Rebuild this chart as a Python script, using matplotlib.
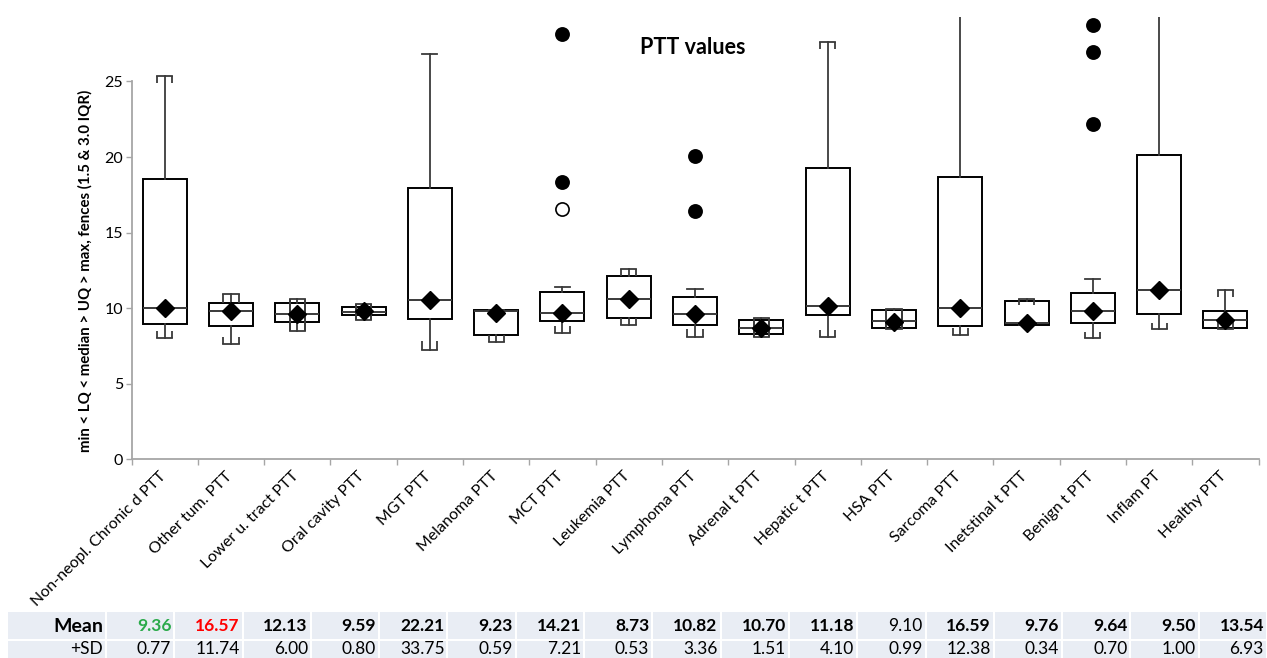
import numpy as np
import matplotlib
matplotlib.use("Agg")
import matplotlib.pyplot as plt
from matplotlib.patches import Rectangle

plt.rcParams['font.family'] = ['Lato', 'DejaVu Sans']

categories = ["Non-neopl. Chronic d PTT", "Other tum. PTT", "Lower u. tract PTT", "Oral cavity PTT",
              "MGT PTT", "Melanoma PTT", "MCT PTT", "Leukemia PTT", "Lymphoma PTT", "Adrenal t PTT",
              "Hepatic t PTT", "HSA PTT", "Sarcoma PTT", "Inetstinal t PTT", "Benign t PTT",
              "Inflam PT", "Healthy PTT"]

whis_hi = [25.33, 10.97, 10.60, 10.28, 26.80, 9.88, 11.37, 12.60, 11.30, 9.36, 27.63, 9.95, 35.0, 10.61, 11.90, 33.0, 11.21]
q3      = [18.53, 10.31, 10.31, 10.05, 17.98, 9.88, 11.10, 12.10, 10.71, 9.23, 19.27, 9.89, 18.70, 10.50, 11.00, 20.13, 9.82]
medians = [9.98, 9.82, 9.60, 9.75, 10.55, 9.80, 9.71, 10.64, 9.60, 8.70, 10.15, 9.12, 9.98, 8.99, 9.78, 11.21, 9.19]
q1      = [8.92, 8.79, 9.10, 9.54, 9.29, 8.21, 9.16, 9.32, 8.88, 8.26, 9.52, 8.70, 8.79, 8.86, 9.03, 9.60, 8.70]
whis_lo = [8.00, 7.62, 8.48, 9.19, 7.22, 7.73, 8.33, 8.90, 8.10, 8.10, 8.10, 8.60, 8.22, 8.86, 8.00, 8.60, 8.60]
means   = [10.0, 9.80, 9.60, 9.80, 10.55, 9.71, 9.70, 10.60, 9.60, 8.70, 10.15, 9.10, 10.0, 9.00, 9.78, 11.20, 9.20]

# fence brackets: value where the bracket sides end (nan = plain cap)
nan = np.nan
top_fence_end = [24.93, 10.31, 8.48, 9.19, nan, nan, nan, 12.10, nan, 8.10, 27.15, 8.60, nan, 10.20, nan, nan, 10.75]
bot_fence_end = [8.49, 8.06, 10.60, 10.28, 7.82, 8.21, 8.81, 9.32, 8.61, 9.36, 8.55, 9.95, 8.67, nan, 8.45, 9.03, 9.20]

# outliers (category index, value, filled?)
out_idx    = [6, 6, 6, 8, 8, 14, 14, 14]
out_val    = [28.17, 18.37, 16.54, 20.09, 16.41, 28.77, 26.94, 22.18]
out_filled = [True, True, False, True, True, True, True, True]

yticks = [0, 5, 10, 15, 20, 25]

table_mean = ["9.36", "16.57", "12.13", "9.59", "22.21", "9.23", "14.21", "8.73", "10.82", "10.70",
              "11.18", "9.10", "16.59", "9.76", "9.64", "9.50", "13.54"]
table_sd = ["0.77", "11.74", "6.00", "0.80", "33.75", "0.59", "7.21", "0.53", "3.36", "1.51",
            "4.10", "0.99", "12.38", "0.34", "0.70", "1.00", "6.93"]
mean_colors = {0: '#2aaa4a', 1: '#ff0000'}
mean_normal = {11}

W_PX, H_PX = 1267, 658
fig = plt.figure(figsize=(W_PX / 100, H_PX / 100), dpi=100)

ax_l, ax_r, ax_t, ax_b = 131.5, 1258.6, 16.5, 459.3
ax = fig.add_axes([ax_l / W_PX, 1 - ax_b / H_PX, (ax_r - ax_l) / W_PX, (ax_b - ax_t) / H_PX])

n = len(categories)
pos = np.arange(n)
stats = []
for i in range(n):
    stats.append(dict(med=medians[i], q1=q1[i], q3=q3[i], whislo=whis_lo[i], whishi=whis_hi[i],
                      mean=means[i], fliers=[]))

ax.bxp(stats, positions=pos, widths=0.665, capwidths=0.23, showmeans=True, showfliers=False,
       patch_artist=True,
       boxprops=dict(facecolor='none', edgecolor='black', linewidth=1.4),
       medianprops=dict(color='#3a3a3a', linewidth=1.4),
       whiskerprops=dict(color='#3a3a3a', linewidth=1.3),
       capprops=dict(color='#3a3a3a', linewidth=1.3),
       meanprops=dict(marker='D', markerfacecolor='black', markeredgecolor='black', markersize=9.5, zorder=5))

hw = 0.115
for i in range(n):
    if not np.isnan(top_fence_end[i]):
        ax.vlines([pos[i] - hw, pos[i] + hw], top_fence_end[i], whis_hi[i], colors='#3a3a3a', linewidth=1.3, zorder=3)
    if not np.isnan(bot_fence_end[i]):
        ax.vlines([pos[i] - hw, pos[i] + hw], whis_lo[i], bot_fence_end[i], colors='#3a3a3a', linewidth=1.3, zorder=3)

for i, v, f in zip(out_idx, out_val, out_filled):
    ax.plot(pos[i], v, marker='o', markersize=9.5, linestyle='none',
            markerfacecolor='black' if f else 'white', markeredgecolor='black', markeredgewidth=1.2, zorder=6)

ax.set_xlim(-0.5, n - 0.5)
ax.set_ylim(0, 29.3)
for s in ['top', 'right']:
    ax.spines[s].set_visible(False)
for s in ['left', 'bottom']:
    ax.spines[s].set_color('#a6a6a6')
    ax.spines[s].set_linewidth(1.3)
ax.spines['left'].set_bounds(0, 25)

ax.set_yticks(yticks)
ax.set_yticklabels([str(t) for t in yticks])
ax.tick_params(axis='y', direction='out', length=4, width=1, color='#a6a6a6', labelsize=11.5, pad=2)

ax.set_xticks(np.arange(-0.5, n, 1.0))
ax.set_xticklabels([])
ax.tick_params(axis='x', which='major', direction='out', length=4, width=1, color='#a6a6a6')
ax.set_xticks(pos + 0.06, minor=True)
ax.set_xticklabels(categories, minor=True, rotation=45, ha='right', fontsize=11.5)
ax.tick_params(axis='x', which='minor', length=0, pad=7)

fig.text(85 / W_PX, 1 - 271 / H_PX, "min < LQ < median > UQ > max, fences (1.5 & 3.0 IQR)",
         rotation=90, ha='center', va='center', fontsize=10.8, fontweight='bold')
fig.text(693 / W_PX, 1 - 48 / H_PX, "PTT values", ha='center', va='center', fontsize=15.5, fontweight='bold')

# table
tab = fig.add_axes([0, 0, 1, 1], zorder=-1)
tab.set_xlim(0, W_PX)
tab.set_ylim(H_PX, 0)
tab.axis('off')
band = '#e9edf4'
x0, xlab = 8, 106
colw = (W_PX - xlab) / n
rows = [(612, 639, 626), (641, 670, 649)]
for (yt, yb, yc) in rows:
    tab.add_patch(Rectangle((x0, yt), xlab - x0 - 1, yb - yt, facecolor=band, edgecolor='none'))
    for j in range(n):
        tab.add_patch(Rectangle((xlab + 1 + j * colw, yt), colw - 2, yb - yt, facecolor=band, edgecolor='none'))

tab.text(xlab - 3, rows[0][2], "Mean", ha='right', va='center', fontsize=14, fontweight='bold')
tab.text(xlab - 3, rows[1][2], "+SD", ha='right', va='center', fontsize=12.5)
for j in range(n):
    xr = xlab + (j + 1) * colw - 3
    tab.text(xr, rows[0][2], table_mean[j], ha='right', va='center', fontsize=12.5,
             fontweight='normal' if j in mean_normal else 'bold', color=mean_colors.get(j, 'black'))
    tab.text(xr, rows[1][2], table_sd[j], ha='right', va='center', fontsize=12.5, color='black')

fig.savefig("out.png", dpi=100)
